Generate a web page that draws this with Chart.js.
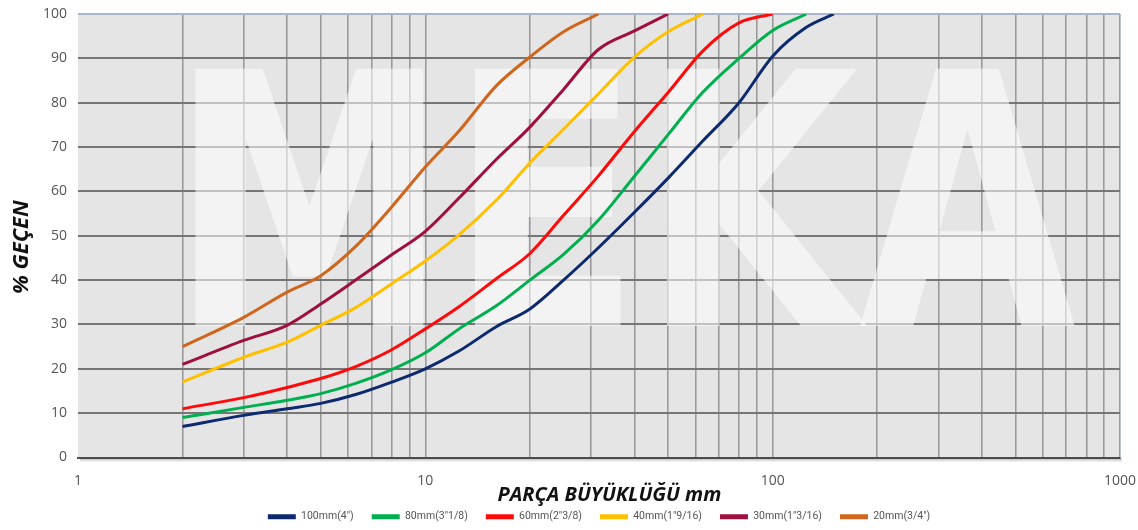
<!DOCTYPE html>
<html>
<head>
<meta charset="utf-8">
<script src="https://cdn.jsdelivr.net/npm/chart.js@4.4.1/dist/chart.umd.min.js"></script>
<style>
  html, body { margin: 0; padding: 0; background: #ffffff; }
  #wrap { width: 1138px; height: 530px; }
</style>
</head>
<body>
<div id="wrap"><canvas id="grading" width="1138" height="530"></canvas></div>
<script>
// Sieve openings (mm) and cumulative % passing for each maximum aggregate size
const sieveSizes = [2, 3, 4, 5, 6.3, 8, 10, 12.5, 16, 20, 25, 31.5, 40, 50, 63, 80, 100, 125, 150];

const passing100 = [7, 9.5, 11, 12.2, 14.2, 17, 20, 24, 29.5, 33.5, 40, 47.3, 55.3, 63, 71.4, 80, 90.5, 97, 100];
const passing80  = [9, 11.3, 12.9, 14.4, 16.7, 19.8, 23.6, 29, 34.2, 40, 45.8, 53.5, 63.4, 72.8, 82.4, 90, 96.3, 100];
const passing60  = [11, 13.5, 15.8, 17.8, 20.5, 24.3, 29, 34, 40.3, 46, 54.6, 63.5, 73.5, 82.3, 91.7, 98, 100];
const passing40  = [17, 22.6, 26, 29.8, 33.8, 39.2, 44.3, 50.2, 58, 66.4, 74, 82, 90.3, 96, 100];
const passing30  = [21, 26.4, 29.8, 34.6, 40, 45.7, 51, 58.5, 67.2, 74.5, 83, 92, 96.2, 100];
const passing20  = [25, 31.6, 37.3, 41, 47.6, 56.5, 65.5, 73.6, 83.8, 90.3, 96, 100];

const seriesLabels = ['100mm(4")', '80mm(3"1/8)', '60mm(2"3/8)', '40mm(1"9/16)', '30mm(1"3/16)', '20mm(3/4")'];
const seriesColors = ['#0d2a6e', '#00b050', '#ff0a0a', '#ffc000', '#a0103e', '#d0661c'];
const seriesValues = [passing100, passing80, passing60, passing40, passing30, passing20];

const xMajorTicks = [1, 10, 100, 1000];
const yTicks = [0, 10, 20, 30, 40, 50, 60, 70, 80, 90, 100];

const datasets = seriesValues.map((vals, i) => ({
  label: seriesLabels[i],
  data: vals.map((v, k) => ({ x: sieveSizes[k], y: v })),
  borderColor: seriesColors[i],
  backgroundColor: seriesColors[i],
  borderWidth: 3,
  pointRadius: 0,
  pointHoverRadius: 0,
  fill: false,
  cubicInterpolationMode: 'monotone'
}));

// grey plotting field
const plotBackground = {
  id: 'plotBackground',
  beforeDraw(chart) {
    const { ctx, chartArea: a } = chart;
    ctx.save();
    ctx.fillStyle = '#e5e5e5';
    ctx.fillRect(a.left, a.top, a.right - a.left, a.bottom - a.top);
    ctx.restore();
  }
};

// faint brand lettering behind the curves
const watermark = {
  id: 'watermark',
  beforeDatasetsDraw(chart) {
    const { ctx, chartArea: a } = chart;
    const boxLeft = 195, boxRight = 1075, capTop = 160, base = 326;
    ctx.save();
    ctx.beginPath();
    ctx.rect(a.left, a.top, a.right - a.left, a.bottom - a.top);
    ctx.clip();
    ctx.font = 'bold 200px "DejaVu Sans"';
    const m = ctx.measureText('MEKA');
    const w = m.actualBoundingBoxLeft + m.actualBoundingBoxRight;
    const h = m.actualBoundingBoxAscent;
    ctx.translate(boxLeft, base);
    ctx.scale((boxRight - boxLeft) / w, (base - capTop) / h);
    ctx.fillStyle = 'rgba(255,255,255,0.55)';
    ctx.textBaseline = 'alphabetic';
    ctx.fillText('MEKA', m.actualBoundingBoxLeft, 0);
    ctx.restore();
  }
};

// soft shadow under the base line of the plot
const baseShadow = {
  id: 'baseShadow',
  afterDraw(chart) {
    const { ctx, chartArea: a } = chart;
    ctx.save();
    const g = ctx.createLinearGradient(0, a.bottom + 1, 0, a.bottom + 5);
    g.addColorStop(0, 'rgba(0,0,0,0.25)');
    g.addColorStop(1, 'rgba(0,0,0,0)');
    ctx.fillStyle = g;
    ctx.fillRect(a.left + 2, a.bottom + 1, a.right - a.left, 4);
    ctx.restore();
  }
};

new Chart(document.getElementById('grading'), {
  type: 'line',
  data: { datasets },
  plugins: [plotBackground, watermark, baseShadow],
  options: {
    responsive: false,
    animation: false,
    layout: { padding: { left: 0, right: 18, top: 14, bottom: -2 } },
    plugins: {
      tooltip: { enabled: false },
      legend: {
        position: 'bottom',
        fullSize: false,
        labels: {
          boxWidth: 28,
          boxHeight: 5,
          padding: 18,
          color: '#555555',
          font: { family: 'Roboto', size: 10.5 },
          generateLabels(chart) {
            return Chart.defaults.plugins.legend.labels.generateLabels(chart)
              .map(item => Object.assign(item, { lineWidth: 0 }));
          }
        }
      }
    },
    scales: {
      x: {
        type: 'logarithmic',
        min: 1,
        max: 1000,
        afterFit(scale) {
          scale.height = 36;
          scale.paddingLeft = 0;
          scale.paddingRight = 0;
        },
        afterBuildTicks(scale) {
          const t = [];
          for (let d = 1; d < 1000; d *= 10) {
            for (let k = 1; k < 10; k++) t.push({ value: k * d });
          }
          t.push({ value: 1000 });
          scale.ticks = t;
        },
        ticks: {
          autoSkip: false,
          maxRotation: 0,
          padding: 15,
          color: '#555555',
          font: { family: 'Open Sans', size: 14 },
          callback: v => (xMajorTicks.includes(v) ? String(v) : '')
        },
        grid: {
          drawTicks: false,
          color: ctx => {
            const v = ctx.tick && ctx.tick.value;
            if (v === 1) return 'rgba(0,0,0,0)';
            if (v === 1000) return '#8e9cb6';
            return '#9a9a9a';
          },
          lineWidth: 1.6
        },
        border: { display: true, color: '#505050', width: 2 },
        title: {
          display: true,
          text: '    PARÇA BÜYÜKLÜĞÜ mm',
          color: '#111111',
          font: { family: 'Open Sans', size: 20, weight: 'bold', style: 'italic' },
          padding: { top: 0, bottom: -14 }
        }
      },
      y: {
        min: 0,
        max: 100,
        afterFit(scale) {
          scale.width = 78;
          scale.paddingTop = 0;
          scale.paddingBottom = 0;
        },
        afterBuildTicks(scale) { scale.ticks = yTicks.map(v => ({ value: v })); },
        ticks: {
          padding: 11,
          color: '#555555',
          font: { family: 'Open Sans', size: 14 }
        },
        grid: {
          drawTicks: false,
          color: ctx => (ctx.tick && ctx.tick.value === 100 ? '#aab5ca' : '#767676'),
          lineWidth: 2
        },
        border: { display: false },
        title: {
          display: true,
          text: '% GEÇEN    ',
          color: '#111111',
          font: { family: 'Open Sans', size: 22, weight: 'bold', style: 'italic' },
          padding: { top: 9, bottom: 0 }
        }
      }
    }
  }
});
</script>
</body>
</html>
